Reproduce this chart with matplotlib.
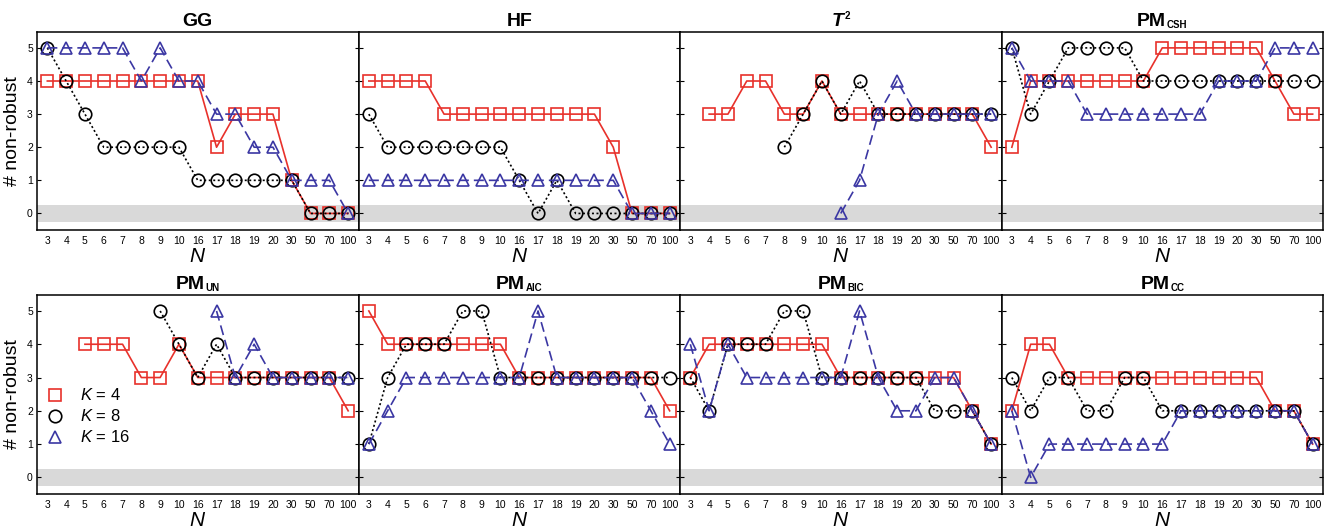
import numpy as np
import matplotlib
matplotlib.use("Agg")
import matplotlib.pyplot as plt
from matplotlib.lines import Line2D

plt.rcParams['font.family'] = ['Liberation Sans', 'DejaVu Sans']
plt.rcParams['mathtext.fontset'] = 'custom'
plt.rcParams['mathtext.rm'] = 'Liberation Sans'
plt.rcParams['mathtext.it'] = 'Liberation Sans:italic'
plt.rcParams['mathtext.bf'] = 'Liberation Sans:bold'

n_labels = ["3", "4", "5", "6", "7", "8", "9", "10", "16", "17", "18", "19", "20", "30", "50", "70", "100"]
nan = np.nan

# (main text, subscript, superscript, italic main)
titles = [("GG", "", "", False), ("HF", "", "", False), ("T", "", "2", True), ("PM", "CSH", "", False),
          ("PM", "UN", "", False), ("PM", "AIC", "", False), ("PM", "BIC", "", False), ("PM", "CC", "", False)]

gg_k4 = [4, 4, 4, 4, 4, 4, 4, 4, 4, 2, 3, 3, 3, 1, 0, 0, 0]
gg_k8 = [5, 4, 3, 2, 2, 2, 2, 2, 1, 1, 1, 1, 1, 1, 0, 0, 0]
gg_k16 = [5, 5, 5, 5, 5, 4, 5, 4, 4, 3, 3, 2, 2, 1, 1, 1, 0]

hf_k4 = [4, 4, 4, 4, 3, 3, 3, 3, 3, 3, 3, 3, 3, 2, 0, 0, 0]
hf_k8 = [3, 2, 2, 2, 2, 2, 2, 2, 1, 0, 1, 0, 0, 0, 0, 0, 0]
hf_k16 = [1, 1, 1, 1, 1, 1, 1, 1, 1, 1, 1, 1, 1, 1, 0, 0, 0]

t2_k4 = [nan, 3, 3, 4, 4, 3, 3, 4, 3, 3, 3, 3, 3, 3, 3, 3, 2]
t2_k8 = [nan, nan, nan, nan, nan, 2, 3, 4, 3, 4, 3, 3, 3, 3, 3, 3, 3]
t2_k16 = [nan, nan, nan, nan, nan, nan, nan, nan, 0, 1, 3, 4, 3, 3, 3, 3, 3]

csh_k4 = [2, 4, 4, 4, 4, 4, 4, 4, 5, 5, 5, 5, 5, 5, 4, 3, 3]
csh_k8 = [5, 3, 4, 5, 5, 5, 5, 4, 4, 4, 4, 4, 4, 4, 4, 4, 4]
csh_k16 = [5, 4, 4, 4, 3, 3, 3, 3, 3, 3, 3, 4, 4, 4, 5, 5, 5]

un_k4 = [nan, nan, 4, 4, 4, 3, 3, 4, 3, 3, 3, 3, 3, 3, 3, 3, 2]
un_k8 = [nan, nan, nan, nan, nan, nan, 5, 4, 3, 4, 3, 3, 3, 3, 3, 3, 3]
un_k16 = [nan, nan, nan, nan, nan, nan, nan, nan, nan, 5, 3, 4, 3, 3, 3, 3, 3]

aic_k4 = [5, 4, 4, 4, 4, 4, 4, 4, 3, 3, 3, 3, 3, 3, 3, 3, 2]
aic_k8 = [1, 3, 4, 4, 4, 5, 5, 3, 3, 3, 3, 3, 3, 3, 3, 3, 3]
aic_k16 = [1, 2, 3, 3, 3, 3, 3, 3, 3, 5, 3, 3, 3, 3, 3, 2, 1]

bic_k4 = [3, 4, 4, 4, 4, 4, 4, 4, 3, 3, 3, 3, 3, 3, 3, 2, 1]
bic_k8 = [3, 2, 4, 4, 4, 5, 5, 3, 3, 3, 3, 3, 3, 2, 2, 2, 1]
bic_k16 = [4, 2, 4, 3, 3, 3, 3, 3, 3, 5, 3, 2, 2, 3, 3, 2, 1]

cc_k4 = [2, 4, 4, 3, 3, 3, 3, 3, 3, 3, 3, 3, 3, 3, 2, 2, 1]
cc_k8 = [3, 2, 3, 3, 2, 2, 3, 3, 2, 2, 2, 2, 2, 2, 2, 2, 1]
cc_k16 = [2, 0, 1, 1, 1, 1, 1, 1, 1, 2, 2, 2, 2, 2, 2, 2, 1]

panels = [(gg_k4, gg_k8, gg_k16), (hf_k4, hf_k8, hf_k16), (t2_k4, t2_k8, t2_k16), (csh_k4, csh_k8, csh_k16),
          (un_k4, un_k8, un_k16), (aic_k4, aic_k8, aic_k16), (bic_k4, bic_k8, bic_k16), (cc_k4, cc_k8, cc_k16)]

RED = '#e8312b'
BLK = '#000000'
BLU = '#3b37a3'
styles = [
    dict(color=RED, marker='s', ls='-', ms=8, lw=1.2),
    dict(color=BLK, marker='o', ls=(0, (1.2, 1.5)), ms=9, lw=1.2),
    dict(color=BLU, marker='^', ls=(0, (6, 3)), ms=9, lw=1.2),
]

W, H = 1333, 532
fig = plt.figure(figsize=(W / 100, H / 100), dpi=100)
renderer = fig.canvas.get_renderer()
x0, x1 = 37, 1323
pw = (x1 - x0) / 4
rows = [(32, 230), (295, 494)]
x = np.arange(len(n_labels))


def text_width(s, **kw):
    t = fig.text(0, 0, s, **kw)
    w = t.get_window_extent(renderer).width
    t.remove()
    return w


def draw_title(cx, base_y, main, sub, sup, italic):
    kw_main = dict(fontsize=14, weight='bold', style='italic' if italic else 'normal')
    kw_small = dict(fontsize=7, weight='bold')
    wm = text_width(main, **kw_main)
    ws = text_width(sub or sup, **kw_small) if (sub or sup) else 0
    total = wm + (ws + 1 if ws else 0)
    left = cx - total / 2
    fig.text(left / W, 1 - base_y / H, main, ha='left', va='baseline', **kw_main)
    if sub:
        fig.text((left + wm + 1) / W, 1 - (base_y + 2) / H, sub, ha='left', va='baseline', **kw_small)
    if sup:
        fig.text((left + wm + 1) / W, 1 - (base_y - 7) / H, sup, ha='left', va='baseline', **kw_small)


axes = []
for i in range(8):
    r, c = divmod(i, 4)
    top, bot = rows[r]
    ax = fig.add_axes([(x0 + c * pw) / W, 1 - bot / H, pw / W, (bot - top) / H])
    axes.append(ax)
    ax.axhspan(-0.25, 0.25, color='#d9d9d9', lw=0, zorder=0)
    for data, st in zip(panels[i], styles):
        ax.plot(x, data, color=st['color'], marker=st['marker'], ls=st['ls'], lw=st['lw'],
                ms=st['ms'], mfc='none', mec=st['color'], mew=1.2, zorder=3)
    ax.set_xlim(-0.55, 16.55)
    ax.set_ylim(-0.5, 5.48)
    ax.set_xticks(x)
    ax.set_xticklabels(n_labels, fontsize=7.5)
    ax.set_yticks([0, 1, 2, 3, 4, 5])
    ax.tick_params(axis='both', direction='in', length=3, width=0.8, pad=3)
    ax.tick_params(axis='y', right=True)
    ax.tick_params(axis='x', length=0, pad=4)
    if c == 0:
        ax.set_yticklabels(["0", "1", "2", "3", "4", "5"], fontsize=7.5)
        ax.set_ylabel("# non-robust", fontsize=14, labelpad=4)
    else:
        ax.set_yticklabels([])
    for sp in ax.spines.values():
        sp.set_linewidth(1.1)
    ax.set_xlabel(r"$N$", fontsize=15, labelpad=1)
    main, sub, sup, ital = titles[i]
    draw_title(x0 + c * pw + pw / 2, top - 6, main, sub, sup, ital)

handles = [Line2D([], [], color=st['color'], marker=st['marker'], ls='none', ms=st['ms'], mfc='none',
                  mec=st['color'], mew=1.2) for st in styles]
labels = [r"$K$ = 4", r"$K$ = 8", r"$K$ = 16"]
axes[4].legend(handles, labels, loc='center left', bbox_to_anchor=(-0.01, 0.39), frameon=False,
               fontsize=12, handlelength=1.2, handletextpad=0.9, labelspacing=0.3, borderaxespad=0.3)

fig.savefig("out.png", dpi=100)
